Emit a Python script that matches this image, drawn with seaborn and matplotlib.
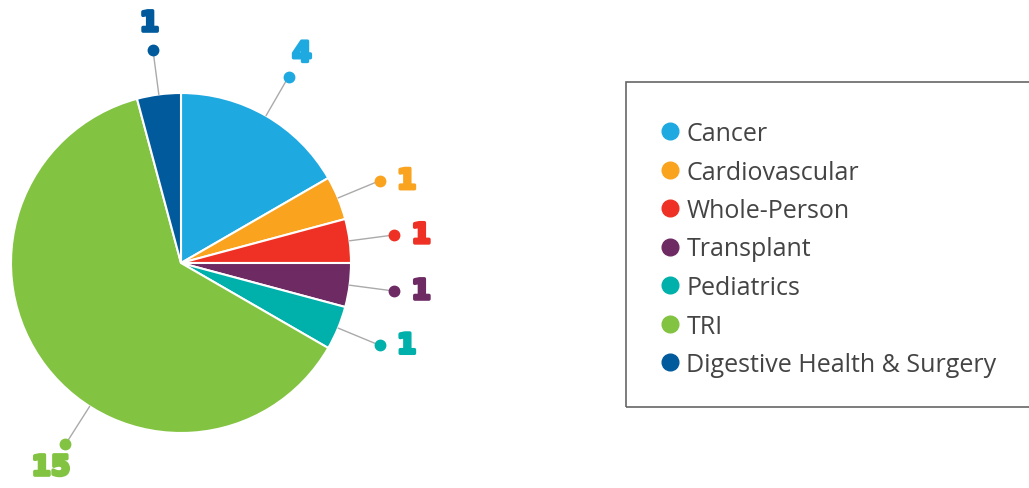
import matplotlib
matplotlib.use("Agg")
import matplotlib.pyplot as plt
import matplotlib.patheffects as pe
import seaborn as sns
import numpy as np
from matplotlib.lines import Line2D
from matplotlib.patches import Rectangle

sns.set_theme(style="white")
plt.rcParams['font.family'] = ['Open Sans', 'DejaVu Sans']

# data
categories = ['Cancer', 'Cardiovascular', 'Whole-Person', 'Transplant',
              'Pediatrics', 'TRI', 'Digestive Health & Surgery']
counts = [4, 1, 1, 1, 1, 15, 1]
colors = ['#1FA9E1', '#F9A31F', '#EE3124', '#6D2A63',
          '#00B0AA', '#82C341', '#005A9C']

# layout (pixel units, y up)
cx, cy, R = 181, 225, 170
dot_r, text_gap = 215, 27
label_shift = {'TRI': 20}  # degrees moved off the slice middle

fig = plt.figure(figsize=(10.29, 4.89), dpi=100)
ax = fig.add_axes([0, 0, 1, 1])

wedges, _ = ax.pie(counts, colors=colors, startangle=90, counterclock=False,
                   center=(cx, cy), radius=R, frame=True,
                   wedgeprops=dict(edgecolor='white', linewidth=1.5))
ax.set_xlim(0, 1029)
ax.set_ylim(0, 489)
ax.set_aspect('equal')
ax.axis('off')

for w, name, n, c in zip(wedges, categories, counts, colors):
    ang = (w.theta1 + w.theta2) / 2 + label_shift.get(name, 0)
    a = np.deg2rad(ang)
    x0, y0 = cx + R * np.cos(a), cy + R * np.sin(a)
    x1, y1 = cx + dot_r * np.cos(a), cy + dot_r * np.sin(a)
    if abs(ang) < 45:
        # labels on the right side sit beside the dot
        x2, y2 = x1 + text_gap, y1
    else:
        x2, y2 = x1 + text_gap * np.cos(a), y1 + text_gap * np.sin(a)
    ax.plot([x0, x1], [y0, y1], color='#AAAAAA', lw=1, zorder=1)
    ax.plot(x1, y1, 'o', color=c, ms=7.5, zorder=3)
    ax.text(x2, y2, str(n), color=c, fontsize=20, fontweight='bold',
            family='DejaVu Sans', ha='center', va='center',
            path_effects=[pe.withStroke(linewidth=2.5, foreground=c)])

# legend box
ax.add_patch(Rectangle((626, 81), 420, 325, fill=False, edgecolor='#666666',
                       lw=1.2, clip_on=False))
handles = [Line2D([], [], marker='o', ls='', color=c, markersize=12) for c in colors]
leg = ax.legend(handles, categories, loc='upper left',
                bbox_to_anchor=(660 / 1029, 1 - 122 / 489),
                frameon=False, fontsize=18, labelspacing=0.54,
                handlelength=0.8, handletextpad=0.25, borderpad=0,
                borderaxespad=0)
for t in leg.get_texts():
    t.set_color('#444444')

fig.savefig('out.png', dpi=100)
